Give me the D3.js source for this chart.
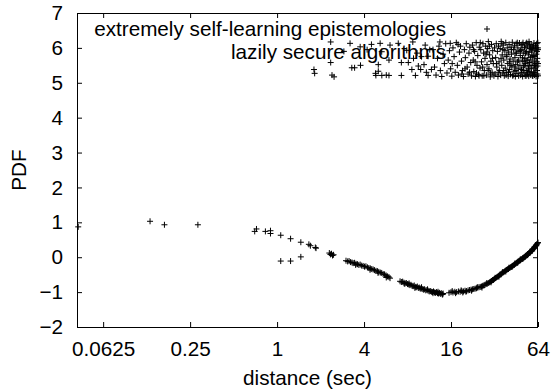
<!DOCTYPE html>
<html><head><meta charset="utf-8">
<script src="https://cdn.jsdelivr.net/npm/d3@7"></script>
<style>html,body{margin:0;padding:0;background:#fff}svg{display:block}</style>
</head><body>
<svg id="c" width="554" height="392"></svg>
<script>
const seriesNames = ["extremely self-learning epistemologies", "lazily secure algorithms"];
const xTickValues = [0.0625, 0.25, 1, 4, 16, 64];
const xTickLabels = ["0.0625", "0.25", "1", "4", "16", "64"];
const yTickValues = [-2, -1, 0, 1, 2, 3, 4, 5, 6, 7];
const xDomain = [0.0412, 64];
const yDomain = [-2, 7];

// series 1: the lower curve
const epistemologies = [
[0.042,0.87],[0.132,1.03],[0.166,0.93],[0.283,0.93],[0.70,0.74],[0.72,0.81],[0.83,0.74],[0.90,0.76],[0.90,0.68],[1.06,0.63],[1.24,0.53],[1.46,0.43],[1.06,-0.11],[1.24,-0.11],[1.46,0.01],[1.66,0.37],[1.70,0.33],[1.84,0.28],[1.86,0.26],[2.30,0.12],[2.34,0.08],[2.38,0.10],[2.42,0.05],[2.46,0.07],
[3.00,-0.10],[3.08,-0.12],[3.15,-0.11],[3.22,-0.14],[3.30,-0.15],[3.36,-0.17],[3.44,-0.16],[3.52,-0.19],[3.60,-0.20],[3.68,-0.22],[3.76,-0.21],[3.85,-0.24],[3.94,-0.25],[4.03,-0.27],[4.12,-0.26],[4.22,-0.29],[4.32,-0.31],[4.42,-0.32],[4.52,-0.34],[4.62,-0.35],[4.72,-0.37],[4.84,-0.39],[4.95,-0.40],[5.06,-0.42],[5.18,-0.44],[5.30,-0.45],[5.42,-0.48],[5.55,-0.49],[5.68,-0.52],[5.82,-0.55],[5.95,-0.57],[6.05,-0.60],[5.0,-0.45],[4.4,-0.36],[3.5,-0.22],[5.7,-0.58],
[7.10,-0.69],[7.25,-0.71],[7.40,-0.70],[7.55,-0.73],[7.70,-0.75],[7.85,-0.74],[8.00,-0.77],[8.15,-0.78],[8.30,-0.80],[8.45,-0.79],[8.60,-0.82],[8.75,-0.83],[8.90,-0.81],[9.05,-0.85],[9.20,-0.86],[9.35,-0.84],[9.50,-0.88],[9.65,-0.87],[9.80,-0.90],[9.95,-0.89],[10.1,-0.91],[10.3,-0.93],[10.5,-0.92],[10.7,-0.95],[10.9,-0.94],[11.1,-0.96],[11.3,-0.98],[11.5,-0.97],[11.7,-0.99],[11.9,-1.00],[12.1,-0.98],[12.3,-1.01],[12.5,-1.02],[12.7,-1.00],[12.9,-1.03],[13.1,-1.04],[13.3,-1.02],[13.5,-1.05],[13.7,-1.03],[13.9,-1.06],[14.1,-1.04],[7.6,-0.76],[8.2,-0.75],[9.0,-0.88],[10.0,-0.86],[11.0,-0.92],[12.0,-1.03],[13.0,-0.99],[14.0,-1.07],
[15.5,-1.02],[16,-1.0],[16.5,-1.01],[17,-0.99],[17.5,-1.0],[18,-0.98],[18.5,-0.99],[19,-0.97],[19.5,-0.98],[20,-0.96],[20.5,-0.97],[21,-0.95],[21.5,-0.94],[22,-0.93],[22.5,-0.92],[23,-0.91],[23.5,-0.90],[24,-0.89],[24.5,-0.87],[25,-0.86],[25.5,-0.85],[26,-0.84],[26.5,-0.82],[27,-0.81],[27.5,-0.79],[28,-0.77],[28.5,-0.76],[29,-0.74],[29.5,-0.72],[30,-0.70],[30.5,-0.68],[31,-0.66],[31.5,-0.64],[32,-0.62],[32.5,-0.60],[33,-0.58],[33.5,-0.56],[34,-0.54],[34.5,-0.52],[35,-0.50],[35.5,-0.48],[36,-0.46],[36.5,-0.44],[37,-0.43],[37.5,-0.41],[38,-0.39],[38.5,-0.37],[39,-0.36],[39.5,-0.34],[40,-0.33],[40.5,-0.31],[41,-0.30],[41.5,-0.28],[42,-0.27],[42.5,-0.25],[43,-0.24],[43.5,-0.22],[44,-0.21],[44.5,-0.19],[45,-0.18],[45.5,-0.16],[46,-0.15],[46.5,-0.13],[47,-0.12],[47.5,-0.10],[48,-0.09],[48.5,-0.08],[49,-0.06],[49.5,-0.05],[50,-0.04],[50.5,-0.02],[51,-0.01],[51.5,0.00],[52,0.01],[52.5,0.03],[53,0.04],[53.5,0.06],[54,0.07],[54.5,0.09],[55,0.10],[55.5,0.12],[56,0.13],[56.5,0.15],[57,0.16],[57.5,0.18],[58,0.19],[58.5,0.21],[59,0.23],[59.5,0.24],[60,0.26],[60.5,0.28],[61,0.30],[61.5,0.32],[62,0.34],[62.5,0.36],[63,0.38],[63.5,0.40],[64,0.42],
[17.2,-1.03],[18.8,-0.95],[20.3,-0.99],[22.2,-0.96],[24.3,-0.86],[26.2,-0.87],[28.3,-0.74],[30.3,-0.72],[32.3,-0.59],[34.3,-0.56],[36.3,-0.43],[38.3,-0.41],[40.3,-0.30],[42.3,-0.28],[44.3,-0.18],[46.3,-0.16],[48.3,-0.06],[50.3,-0.05],[52.3,0.04],[54.3,0.06],[56.3,0.16],[58.3,0.18],[60.3,0.29],[62.3,0.33],[16.3,-0.97],[19.3,-1.01]
];

// series 2: the upper cloud
const algorithms = [
[1.80,5.38],[1.82,5.27],[2.35,6.17],[2.35,5.58],[2.40,5.22],[2.48,5.17],[3.29,5.43],[3.44,5.43],[3.78,5.50],[3.2,6.13],[3.76,6.03],[4.83,5.21],[5.02,5.52],[5.02,5.33],[5.31,5.21],[5.17,6.13],[5.3,5.89],[5.95,5.65],[5.95,5.21],[6.05,6.08],[6.9,6.13],[7.25,5.58],[7.25,5.21],[7.9,5.93],[8.7,6.17],[4.2,5.95],[4.5,6.1],[2.9,5.9],[13.4,6.17],[15.8,6.13],[4.8,5.27],[5.7,5.22],
[8.1,5.58],[8.57,5.38],[9.07,5.21],[9.5,5.48],[9.86,5.38],[10.0,5.75],[10.4,5.52],[10.6,6.08],[11.1,5.76],[11.1,5.21],[11.7,5.38],[11.4,5.95],[10.8,5.3],[9.3,5.85],[8.8,5.7],
[12.0,5.95],[12.3,5.45],[12.6,5.22],[12.9,5.7],[13.2,6.05],[13.5,5.35],[13.8,5.18],[14.1,5.82],[14.4,5.55],[14.7,6.12],[15.0,5.28],[15.3,5.65],[15.6,5.92],[15.9,5.4],[16.2,5.19],
[16.5,6.0],[16.8,5.75],[17.1,5.3],[17.4,6.15],[17.7,5.5],[18.0,5.22],[18.3,5.88],[18.6,6.05],[18.9,5.62],[19.2,5.35],[19.5,5.18],[19.8,5.95],[20.1,5.72],[20.4,6.12],[20.7,5.45],[21.0,5.25],[21.3,5.85],[21.6,6.02],[21.9,5.58],[22.2,5.2],[16.3,5.55],[17.9,6.1],[19.0,5.25],[20.0,5.4],[21.5,5.3],
[22.5,6.08],[22.8,5.65],[23.0,5.32],[23.3,5.9],[23.6,5.18],[23.9,6.15],[24.2,5.5],[24.5,5.78],[24.8,5.24],[25.1,6.02],[25.4,5.42],[25.7,5.95],[26.0,5.6],[26.3,5.2],[26.6,6.12],[26.9,5.85],[27.2,5.35],[27.5,5.7],[27.8,6.05],[28.1,5.22],[28.4,5.52],[28.7,5.98],[29.0,6.18],[29.3,5.4],[29.6,5.8],[29.9,5.17],[30.2,5.62],[30.5,6.1],[30.8,5.3],[31.1,5.92],[31.4,5.55],[31.7,5.2],[32.0,6.0],[22.9,5.95],[24.0,5.28],[25.5,6.15],[26.5,5.45],[27.0,5.2],[28.0,5.82],[29.5,6.05],[30.0,5.25],[31.0,5.7],[23.5,5.6],[25.0,5.2],[28.9,5.35],
[32.3,5.25],[32.6,5.72],[32.9,6.12],[33.2,5.45],[33.5,5.9],[33.8,5.18],[34.1,6.05],[34.4,5.6],[34.7,5.35],[35.0,5.98],[35.3,5.22],[35.6,6.18],[35.9,5.5],[36.2,5.8],[36.5,5.28],[36.8,6.08],[37.1,5.65],[37.4,5.2],[37.7,5.92],[38.0,5.42],[38.3,6.15],[38.6,5.75],[38.9,5.3],[39.2,6.0],[39.5,5.55],[39.8,5.19],[40.1,5.88],[40.4,6.1],[40.7,5.38],[41.0,5.68],[41.3,5.24],[41.6,6.02],[41.9,5.82],[42.2,5.48],[42.5,6.16],[42.8,5.2],[43.1,5.62],[43.4,5.95],[43.7,5.33],[44.0,6.06],[44.3,5.72],[44.6,5.18],[44.9,5.52],[45.2,6.12],[45.5,5.85],[45.8,5.27],[46.1,5.6],[46.4,6.0],[46.7,5.4],[47.0,5.2],[47.3,5.9],[47.6,6.14],[33.0,5.55],[34.0,5.3],[35.5,5.7],[36.0,6.12],[37.0,5.35],[38.5,5.22],[39.0,5.8],[40.0,5.3],[41.5,5.5],[42.0,5.95],[43.0,5.22],[44.5,5.85],[45.0,5.35],[46.0,6.15],[47.0,5.65],[36.6,5.95],[40.6,5.6],[44.2,5.45],
[48.0,5.5],[48.3,5.78],[48.6,5.22],[48.9,6.08],[49.2,5.38],[49.5,5.95],[49.8,5.62],[50.1,5.18],[50.4,6.15],[50.7,5.45],[51.0,5.85],[51.3,5.28],[51.6,6.02],[51.9,5.7],[52.2,5.2],[52.5,5.55],[52.8,6.12],[53.1,5.35],[53.4,5.9],[53.7,5.65],[54.0,5.24],[54.3,6.05],[54.6,5.48],[54.9,5.8],[55.2,5.19],[55.5,6.18],[55.8,5.58],[56.1,5.32],[56.4,5.98],[56.7,5.72],[57.0,5.22],[57.3,6.1],[57.6,5.42],[57.9,5.88],[58.2,5.6],[58.5,5.2],[58.8,6.02],[59.1,5.5],[59.4,5.78],[59.7,5.3],[60.0,6.14],[60.3,5.65],[60.6,5.22],[60.9,5.92],[61.2,5.4],[61.5,6.06],[61.8,5.55],[62.1,5.18],[62.4,5.82],[62.7,6.12],[63.0,5.35],[63.3,5.7],[63.6,5.25],[63.9,6.0],[49.0,5.3],[50.0,5.72],[51.5,5.5],[52.0,6.0],[53.0,5.2],[54.5,5.65],[55.0,5.4],[56.0,6.08],[57.5,5.28],[58.0,5.95],[59.0,5.2],[60.5,5.5],[61.0,5.75],[62.0,5.45],[63.0,5.9],[64.0,5.55],[48.5,5.92],[50.5,5.35],[52.4,5.85],[54.2,5.3],[56.2,5.5],[58.4,5.75],[60.2,5.3],[62.2,6.0],[63.5,5.48],[64.0,5.2],[49.7,6.1],[53.5,6.15],[57.0,6.0],[61.0,5.25],[63.8,6.15],[55.6,5.88],[59.6,6.05],[51.2,5.62],[64.0,5.95],[62.9,5.6]
];

const font = "'Liberation Sans', Arial, Helvetica, sans-serif";
const fs = "20.7px";
const svg = d3.select("#c");
const L = 77, R = 538, T = 13, B = 327;
const x = d3.scaleLog().base(2).domain(xDomain).range([L, R]);
const y = d3.scaleLinear().domain(yDomain).range([B, T]);

// axes (inward ticks, mirrored)
const gx = svg.append("g").attr("transform", `translate(0,${B})`)
  .call(d3.axisBottom(x).tickValues(xTickValues).tickFormat((d,i)=>xTickLabels[i]).tickSizeInner(-5).tickSizeOuter(0).tickPadding(14));
const gxt = svg.append("g").attr("transform", `translate(0,${T})`)
  .call(d3.axisTop(x).tickValues(xTickValues).tickFormat("").tickSizeInner(-5).tickSizeOuter(0));
const gy = svg.append("g").attr("transform", `translate(${L},0)`)
  .call(d3.axisLeft(y).tickValues(yTickValues).tickFormat(d3.format("d")).tickSizeInner(-5).tickSizeOuter(0).tickPadding(14));
const gyr = svg.append("g").attr("transform", `translate(${R},0)`)
  .call(d3.axisRight(y).tickValues(yTickValues).tickFormat("").tickSizeInner(-5).tickSizeOuter(0));
[gx,gxt,gy,gyr].forEach(g=>{
  g.select(".domain").remove();
  g.selectAll("line").attr("stroke","#000");
  g.selectAll("text").attr("fill","#000").style("font-family",font).style("font-size",fs);
});

svg.append("rect").attr("x",L+0.5).attr("y",T+0.5).attr("width",R-L-1).attr("height",B-T)
  .attr("fill","none").attr("stroke","#000").attr("stroke-width",1);

// axis titles
svg.append("text").attr("x",(L+R)/2).attr("y",385).attr("text-anchor","middle")
  .style("font-family",font).style("font-size",fs).text("distance (sec)");
svg.append("text").attr("transform","translate(26,170) rotate(-90)").attr("text-anchor","middle")
  .style("font-family",font).style("font-size",fs).text("PDF");

// legend
const keyX = 446, keySampleX = 487, keyY = [36, 59];
seriesNames.forEach((n,i)=>{
  svg.append("text").attr("x",keyX).attr("y",keyY[i]).attr("text-anchor","end")
    .style("font-family",font).style("font-size",fs).text(n);
});

const plus = "M-3,0H3M0,-3V3";
function drawPts(data){
  svg.append("g").selectAll("path").data(data).join("path")
    .attr("transform",d=>`translate(${x(d[0])},${y(d[1])})`)
    .attr("d",plus).attr("stroke","#000").attr("stroke-width",1).attr("fill","none");
}
drawPts(epistemologies);
drawPts(algorithms);
seriesNames.forEach((n,i)=>{
  svg.append("path").attr("transform",`translate(${keySampleX},${keyY[i]-7})`)
    .attr("d",plus).attr("stroke","#000").attr("stroke-width",1).attr("fill","none");
});
</script>
</body></html>
